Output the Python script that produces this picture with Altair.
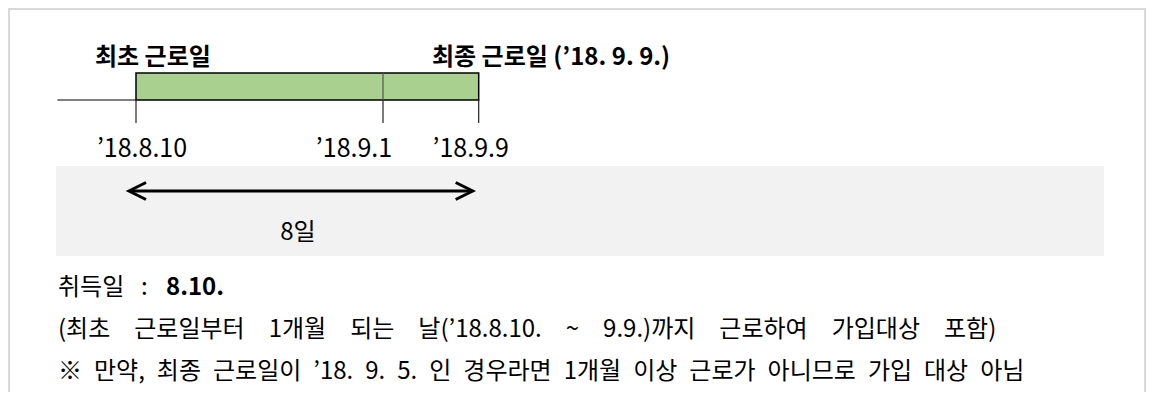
import altair as alt
import pandas as pd

FONT = "Noto Sans CJK KR"
GREEN = "#a9d08e"

# ---- data (days counted from the first working day, 2018-08-10) ----
tick_days = [0, 22, 30]
tick_labels = ["’18.8.10", "’18.9.1", "’18.9.9"]
bar_start_day = [0]
bar_end_day = [30]
month_boundary_day = [22]
pre_start_day = [-7]
first_label = ["최초 근로일"]
last_label = ["최종 근로일 (’18. 9. 9.)"]
span_label = ["8일"]
acq_prefix = ["취득일 :"]
acq_value = ["8.10."]
note_line2 = ["(최초 근로일부터 1개월 되는 날(’18.8.10. ~ 9.9.)까지 근로하여 가입대상 포함)"]
note_line3 = ["※ 만약, 최종 근로일이 ’18. 9. 5. 인 경우라면 1개월 이상 근로가 아니므로 가입 대상 아님"]

W, H = 1138, 384
xscale = alt.Scale(domain=[0, 22, 30], range=[128, 375, 470.7])


def xenc(field):
    return alt.X(f"{field}:Q", scale=xscale, axis=None)


def text_layer(values, x, y, size, weight="normal", align="left", dx=0):
    df = pd.DataFrame({"t": values})
    return alt.Chart(df).mark_text(
        align=align, baseline="alphabetic", font=FONT, fontSize=size,
        fontWeight=weight, color="#000000", dx=dx
    ).encode(x=alt.value(x), y=alt.value(y), text="t:N")


frame_df = pd.DataFrame({"k": [0]})
border_top = alt.Chart(frame_df).mark_rule(color="#d9d9d9", strokeWidth=2).encode(
    x=alt.value(0), x2=alt.value(W - 1), y=alt.value(1))
border_left = alt.Chart(frame_df).mark_rule(color="#d9d9d9", strokeWidth=2).encode(
    x=alt.value(1), y=alt.value(0), y2=alt.value(H))
border_right = alt.Chart(frame_df).mark_rule(color="#d9d9d9", strokeWidth=2).encode(
    x=alt.value(W - 1), y=alt.value(0), y2=alt.value(H))

gray_box = alt.Chart(frame_df).mark_rect(color="#f2f2f2").encode(
    x=alt.value(48), x2=alt.value(1096), y=alt.value(158), y2=alt.value(248))

bar_df = pd.DataFrame({"start": bar_start_day, "end": bar_end_day})
bar = alt.Chart(bar_df).mark_rect(fill=GREEN, stroke="#000000", strokeWidth=1.5).encode(
    x=xenc("start"), x2="end:Q", y=alt.value(65), y2=alt.value(92))

div_df = pd.DataFrame({"d": month_boundary_day})
divider = alt.Chart(div_df).mark_rule(color="#555555", strokeWidth=1.2).encode(
    x=xenc("d"), y=alt.value(65), y2=alt.value(92))

pre_df = pd.DataFrame({"a": pre_start_day, "b": bar_start_day})
pre_line = alt.Chart(pre_df).mark_rule(color="#000000", strokeWidth=1.2).encode(
    x=xenc("a"), x2="b:Q", y=alt.value(92))

tick_df = pd.DataFrame({"d": tick_days, "lab": tick_labels})
ticks = alt.Chart(tick_df).mark_rule(color="#222222", strokeWidth=1.2).encode(
    x=xenc("d"), y=alt.value(92), y2=alt.value(115))

label_dx = [6, -29, -8]
tick_text_layers = []
for i, (d, lab) in enumerate(zip(tick_days, tick_labels)):
    df = pd.DataFrame({"d": [d], "lab": [lab]})
    tick_text_layers.append(
        alt.Chart(df).mark_text(align="center", baseline="alphabetic", font=FONT,
                                fontSize=25, color="#000000", dx=label_dx[i])
        .encode(x=xenc("d"), y=alt.value(149), text="lab:N"))

arrow_df = pd.DataFrame({"a": bar_start_day, "b": bar_end_day})
arrow_line = alt.Chart(arrow_df).mark_rule(color="#000000", strokeWidth=3, xOffset=-5,
                                           x2Offset=-8).encode(
    x=xenc("a"), x2="b:Q", y=alt.value(183))
head_l = alt.Chart(arrow_df).mark_point(shape="M1,-0.5L0,0L1,0.5", filled=False, size=1156,
                                        strokeWidth=3, color="#000000", opacity=1,
                                        xOffset=-7).encode(
    x=xenc("a"), y=alt.value(183))
head_r = alt.Chart(arrow_df).mark_point(shape="M-1,-0.5L0,0L-1,0.5", filled=False, size=1156,
                                        strokeWidth=3, color="#000000", opacity=1,
                                        xOffset=-6).encode(
    x=xenc("b"), y=alt.value(183))

EM = "\u2003"
EN = "\u2002"
THIN = "\u2009"
layers = [
    border_top, border_left, border_right, gray_box,
    pre_line, bar, divider, ticks, *tick_text_layers,
    arrow_line, head_l, head_r,
    text_layer(first_label, 87, 57, 24, "bold"),
    text_layer(last_label, 424, 57, 24, "bold"),
    text_layer(span_label, 290, 232, 24, align="center"),
    text_layer([acq_prefix[0].replace(" ", EN + THIN)], 50, 287, 24),
    text_layer(acq_value, 158, 287, 24, "bold"),
    text_layer([note_line2[0].replace(" ", EM)], 50, 329, 24),
    text_layer([note_line3[0].replace(" ", EN)], 50, 371, 24),
]

chart = alt.layer(*layers).properties(
    width=W, height=H, autosize="none", padding=0
).configure_view(stroke="transparent")

chart.save("out.html", embed_options={"renderer": "svg", "actions": False})
